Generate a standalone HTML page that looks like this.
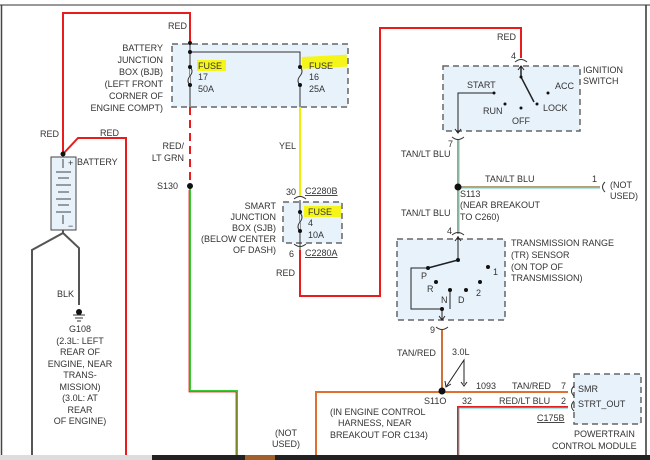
<!DOCTYPE html>
<html><head><style>
body{margin:0;background:#fff;}
svg{display:block;font-family:"Liberation Sans",sans-serif;font-size:9px;fill:#333;}
</style></head><body>
<svg width="650" height="460" viewBox="0 0 650 460" xmlns="http://www.w3.org/2000/svg">
<rect x="0" y="0" width="650" height="460" fill="#fff"/>
<line x1="0" y1="5" x2="650" y2="5" stroke="#999" stroke-width="2"/>
<line x1="1.5" y1="5" x2="1.5" y2="455" stroke="#444" stroke-width="1.5"/>
<line x1="646" y1="5" x2="646" y2="455" stroke="#333" stroke-width="1.5"/>
<!-- boxes -->
<g fill="#e8f2fb" stroke="#666" stroke-width="1.5" stroke-dasharray="6,4">
<rect x="172" y="44" width="176" height="63"/>
<rect x="283" y="202" width="59" height="41"/>
<rect x="443" y="66" width="137" height="65"/>
<rect x="397" y="239" width="108" height="81"/>
<rect x="574" y="374" width="67" height="50"/>
</g>
<!-- highlights -->
<g fill="#f5f51a">
<rect x="197" y="60" width="29" height="11"/>
<rect x="302" y="56" width="45" height="12" transform="rotate(-3 320 62)"/>
<rect x="304" y="206" width="37" height="11"/>
</g>
<!-- red wires -->
<g fill="none" stroke="#e81c1c" stroke-width="2">
<polyline points="63,154 63,13 190,13 190,43"/>
<polyline points="63,154 78,138 126,138 126,455"/>
<polyline points="300,250 300,296 380,296 380,28 521,28 521,58"/>
<line x1="190" y1="107" x2="190" y2="186" stroke-dasharray="8,5"/>
<polyline points="316,455 316,392 442,392 568,392" stroke="#e07030"/>
<polyline points="458,455 458,407 568,407"/>
</g>
<polyline points="190,186 190,391 237,391 237,455" fill="none" stroke="#33cc33" stroke-width="2"/>
<polyline points="189,190 189,392 236,392 236,455" fill="none" stroke="#e81c1c" stroke-width="0.8"/>
<polyline points="459,455 459,408 568,408" fill="none" stroke="#4cc" stroke-width="1"/>
<line x1="300" y1="107" x2="300" y2="196" stroke="#ee0" stroke-width="2"/>
<!-- tan/lt blu -->
<g fill="none" stroke-width="2">
<line x1="458" y1="140" x2="458" y2="234" stroke="#b4a078"/>
<line x1="459" y1="140" x2="459" y2="234" stroke="#6cc" stroke-width="1"/>
<line x1="458" y1="187" x2="600" y2="187" stroke="#b4a078"/>
<line x1="458" y1="188" x2="600" y2="188" stroke="#6cc" stroke-width="1"/>
<line x1="442" y1="330" x2="442" y2="391" stroke="#d0703a"/>
</g>
<!-- inner BJB -->
<g stroke="#333" fill="none" stroke-width="1">
<polyline points="190,43 190,52 300,52 300,67"/>
<line x1="190" y1="52" x2="190" y2="107"/>
<line x1="300" y1="85" x2="300" y2="107"/>
<path d="M190,67 q4,4 0,9 q-4,5 0,9" fill="#e8f2fb"/>
<path d="M300,67 q4,4 0,9 q-4,5 0,9" fill="#e8f2fb"/>
<line x1="300" y1="200" x2="300" y2="250"/>
<path d="M300,213 q4,4 0,9 q-4,5 0,9" fill="#e8f2fb"/>
</g>
<g fill="#111">
<circle cx="190" cy="43" r="2"/><circle cx="190" cy="52" r="2"/><circle cx="190" cy="67" r="2"/><circle cx="190" cy="85" r="2"/>
<circle cx="300" cy="67" r="2"/><circle cx="300" cy="85" r="2"/>
<circle cx="300" cy="212" r="2"/><circle cx="300" cy="231" r="2"/>
<circle cx="190" cy="186" r="3"/><circle cx="458" cy="187" r="3.5"/><circle cx="442" cy="391" r="3.5"/>
<circle cx="63" cy="154" r="2.5"/>
</g>
<text x="168" y="29">RED</text>
<g text-anchor="end">
<text x="163" y="51">BATTERY</text><text x="163" y="63">JUNCTION</text><text x="163" y="75">BOX (BJB)</text>
<text x="163" y="87">(LEFT FRONT</text><text x="163" y="99">CORNER OF</text><text x="163" y="111">ENGINE COMPT)</text>
<text x="184" y="149">RED/</text><text x="184" y="161">LT GRN</text><text x="178" y="189">S130</text>
<text x="296" y="149">YEL</text>
<text x="276" y="209">SMART</text><text x="276" y="220">JUNCTION</text><text x="276" y="231">BOX (SJB)</text>
<text x="276" y="242">(BELOW CENTER</text><text x="276" y="253">OF DASH)</text>
</g>
<text x="198" y="69">FUSE</text><text x="198" y="80">17</text><text x="198" y="92">50A</text>
<text x="309" y="69">FUSE</text><text x="309" y="80">16</text><text x="309" y="92">25A</text>
<text x="308" y="215">FUSE</text><text x="308" y="226">4</text><text x="308" y="238">10A</text>
<text x="286" y="195">30</text><text x="305" y="194" text-decoration="underline">C2280B</text>
<text x="289" y="257">6</text><text x="305" y="256" text-decoration="underline">C2280A</text>
<text x="276" y="276">RED</text>
<path d="M294,199 q6,-5 12,0 M294,244 q6,5 12,0" stroke="#333" fill="none"/>
<!-- battery -->
<rect x="51" y="157" width="25" height="73" fill="#e8f2fb" stroke="#444"/>
<g stroke="#444"><line x1="56" y1="172" x2="71" y2="172"/><line x1="58" y1="178" x2="69" y2="178"/><line x1="56" y1="185" x2="71" y2="185"/><line x1="58" y1="192" x2="69" y2="192"/><line x1="56" y1="199" x2="71" y2="199"/><line x1="58" y1="205" x2="69" y2="205"/><line x1="56" y1="212" x2="71" y2="212"/><line x1="63" y1="159" x2="63" y2="168"/><line x1="63" y1="215" x2="63" y2="224"/></g>
<text x="68" y="166">+</text><text x="68" y="229">−</text>
<text x="77" y="165">BATTERY</text><text x="40" y="137">RED</text><text x="100" y="136">RED</text>
<polyline points="63,230 63,233 32,250 32,455" fill="none" stroke="#555" stroke-width="2"/>
<polyline points="63,233 79,248 79,305" fill="none" stroke="#555" stroke-width="2"/>
<text x="57" y="297">BLK</text>
<circle cx="79" cy="312" r="3" fill="#111"/>
<g stroke="#333"><line x1="73" y1="315" x2="85" y2="315"/><line x1="75" y1="318" x2="83" y2="318"/><line x1="77" y1="321" x2="81" y2="321"/></g>
<g text-anchor="middle">
<text x="80" y="332">G108</text><text x="80" y="344">(2.3L: LEFT</text><text x="80" y="355">REAR OF</text><text x="80" y="367">ENGINE, NEAR</text>
<text x="80" y="378">TRANS-</text><text x="80" y="390">MISSION)</text><text x="80" y="401">(3.0L: AT</text><text x="80" y="413">REAR</text><text x="80" y="424">OF ENGINE)</text>
<text x="286" y="436">(NOT</text><text x="286" y="447">USED)</text>
</g>
<!-- ignition -->
<text x="497" y="40">RED</text><text x="511" y="59">4</text>
<path d="M515,62 q6,-5 12,0" stroke="#333" fill="none"/>
<g stroke="#222" fill="none"><polyline points="521,66 521,77 534,102" stroke-width="1.5"/><path d="M518,70 l3,-4 l3,4"/>
<polyline points="494,93 458,93 458,133"/><path d="M455,129 l3,4 l3,-4"/></g>
<g fill="#111"><circle cx="521" cy="77" r="1.5"/><circle cx="494" cy="93" r="1.5"/><circle cx="548" cy="93" r="1.5"/><circle cx="505" cy="104" r="1.5"/><circle cx="521" cy="108" r="1.5"/><circle cx="537" cy="104" r="1.5"/></g>
<text x="467" y="88">START</text><text x="555" y="89">ACC</text><text x="483" y="114">RUN</text><text x="512" y="124">OFF</text><text x="543" y="111">LOCK</text>
<text x="583" y="73">IGNITION</text><text x="583" y="84">SWITCH</text>
<path d="M452,137 q6,5 12,0" stroke="#333" fill="none"/><text x="448" y="147">7</text>
<text x="401" y="157">TAN/LT BLU</text><text x="485" y="182">TAN/LT BLU</text>
<text x="592" y="182">1</text><path d="M605,182 q-5,5 0,10" stroke="#333" fill="none"/>
<text x="610" y="188">(NOT</text><text x="610" y="199">USED)</text>
<text x="460" y="197">S113</text><text x="460" y="208">(NEAR BREAKOUT</text><text x="460" y="220">TO C260)</text>
<text x="401" y="216">TAN/LT BLU</text>
<text x="447" y="234">4</text><path d="M452,235 q6,-5 12,0" stroke="#333" fill="none"/>
<!-- TR sensor -->
<g stroke="#222" fill="none"><polyline points="458,236 458,260 428,268 411,268 411,309 442,309 442,320"/><path d="M455,241 l3,-4 l3,4 M439,316 l3,4 l3,-4"/><line x1="450" y1="290" x2="450" y2="309"/><line x1="458" y1="260" x2="428" y2="268" stroke-width="1.5"/></g>
<g fill="#111"><circle cx="458" cy="260" r="2"/><circle cx="428" cy="268" r="2"/><circle cx="488" cy="267" r="2"/><circle cx="436" cy="282" r="2"/><circle cx="450" cy="290" r="2"/><circle cx="466" cy="290" r="2"/><circle cx="480" cy="282" r="2"/><circle cx="442" cy="309" r="2"/></g>
<text x="421" y="279">P</text><text x="427" y="292">R</text><text x="441" y="303">N</text><text x="458" y="303">D</text><text x="476" y="296">2</text><text x="493" y="275">1</text>
<text x="511" y="246">TRANSMISSION RANGE</text><text x="511" y="258">(TR) SENSOR</text><text x="511" y="270">(ON TOP OF</text><text x="511" y="281">TRANSMISSION)</text>
<path d="M436,327 q6,5 12,0" stroke="#333" fill="none"/><text x="430" y="333">9</text>
<text x="397" y="356">TAN/RED</text><text x="452" y="355">3.0L</text>
<g stroke="#222" fill="none"><polyline points="446,387 464,360 464,384"/><path d="M445,381 l1,6 l5,-3 M461,382 l3,4 l3,-4"/></g>
<text x="476" y="389">1093</text><text x="512" y="389">TAN/RED</text><text x="561" y="389">7</text>
<text x="424" y="404">S11O</text><text x="462" y="404">32</text><text x="499" y="404">RED/LT BLU</text><text x="561" y="404">2</text>
<path d="M574,386 q-5,5 0,10 M574,401 q-5,5 0,10" stroke="#333" fill="none"/>
<text x="578" y="392">SMR</text><text x="578" y="407">STRT_OUT</text>
<text x="537" y="421" text-decoration="underline">C175B</text>
<text x="574" y="437">POWERTRAIN</text><text x="552" y="449">CONTROL MODULE</text>
<text x="330" y="415">(IN ENGINE CONTROL</text><text x="338" y="426">HARNESS, NEAR</text><text x="330" y="438">BREAKOUT FOR C134)</text>
<rect x="0" y="455" width="650" height="5" fill="#222"/>
<rect x="0" y="455" width="152" height="5" fill="#ddd"/>
<rect x="245" y="455" width="30" height="5" fill="#a0602a"/>
</svg>
</body></html>
